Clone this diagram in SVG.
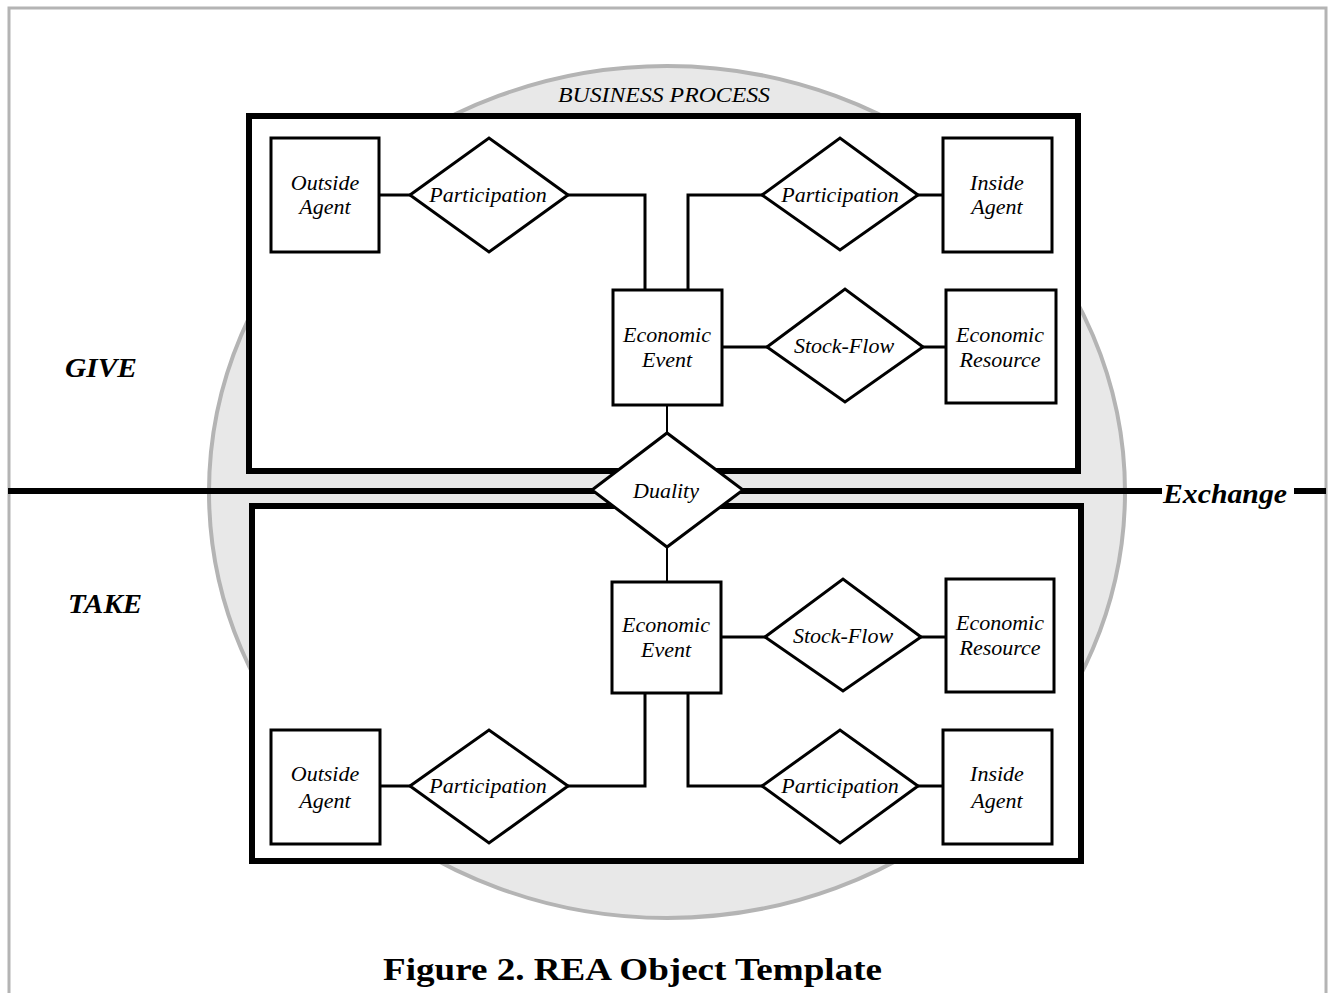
<svg xmlns="http://www.w3.org/2000/svg" width="1331" height="993" viewBox="0 0 1331 993">
  <style>
    .frame { fill: none; stroke: #b4b4b4; stroke-width: 3; }
    .process { fill: #e8e8e8; stroke: #b4b4b4; stroke-width: 4; }
    .side { fill: #ffffff; stroke: #000000; stroke-width: 6; }
    .entity { fill: #ffffff; stroke: #000000; stroke-width: 3; }
    .rel { fill: #ffffff; stroke: #000000; stroke-width: 3; stroke-linejoin: miter; }
    .link { fill: none; stroke: #000000; stroke-width: 3; }
    .thin { fill: none; stroke: #000000; stroke-width: 2; }
    .exch { fill: none; stroke: #000000; stroke-width: 6; }
    .lbl { font-family: "Liberation Serif", "Times New Roman", serif; font-style: italic; font-size: 22px; fill: #000000; text-anchor: middle; }
    .side-lbl { font-family: "Liberation Serif", "Times New Roman", serif; font-style: italic; font-weight: bold; font-size: 28px; fill: #000000; }
    .caption { font-family: "Liberation Serif", "Times New Roman", serif; font-weight: bold; font-size: 31px; fill: #000000; }
  </style>

  <rect x="0" y="0" width="1331" height="993" fill="#ffffff"/>
  <!-- page frame (open at the bottom) -->
  <rect class="frame" x="9" y="8" width="1317" height="1010"/>

  <!-- business process ellipse -->
  <g id="business-process">
    <ellipse class="process" cx="667" cy="492" rx="458" ry="426"/>
    <text class="lbl" x="664" y="102" textLength="212" lengthAdjust="spacingAndGlyphs">BUSINESS PROCESS</text>
  </g>

  <!-- exchange boundary -->
  <g id="exchange">
    <line class="exch" x1="8" y1="491" x2="1162" y2="491"/>
    <line class="exch" x1="1294" y1="491" x2="1326" y2="491"/>
    <text class="side-lbl" x="1163" y="503" textLength="124" lengthAdjust="spacingAndGlyphs">Exchange</text>
  </g>

  <!-- give / take containers -->
  <g id="give">
    <rect class="side" x="249" y="116" width="829" height="355"/>
    <text class="side-lbl" x="65" y="377" textLength="72" lengthAdjust="spacingAndGlyphs">GIVE</text>
  </g>
  <g id="take">
    <rect class="side" x="252" y="506" width="829" height="355"/>
    <text class="side-lbl" x="68" y="613" textLength="74" lengthAdjust="spacingAndGlyphs">TAKE</text>
  </g>

  <!-- connectors -->
  <g id="connectors">
    <!-- give side -->
    <line class="link" x1="379" y1="195" x2="410" y2="195"/>
    <polyline class="link" points="568,195 645,195 645,290"/>
    <polyline class="link" points="688,290 688,195 762,195"/>
    <line class="link" x1="918" y1="195" x2="943" y2="195"/>
    <line class="link" x1="722" y1="347" x2="767" y2="347"/>
    <line class="link" x1="923" y1="347" x2="946" y2="347"/>
    <!-- duality -->
    <line class="thin" x1="667" y1="405" x2="667" y2="433"/>
    <line class="thin" x1="667" y1="547" x2="667" y2="582"/>
    <!-- take side -->
    <line class="link" x1="721" y1="637" x2="765" y2="637"/>
    <line class="link" x1="921" y1="637" x2="946" y2="637"/>
    <polyline class="link" points="645,693 645,786 568,786"/>
    <polyline class="link" points="688,693 688,786 762,786"/>
    <line class="link" x1="380" y1="786" x2="410" y2="786"/>
    <line class="link" x1="918" y1="786" x2="943" y2="786"/>
  </g>

  <!-- give side nodes -->
  <g id="give-outside-agent">
    <rect class="entity" x="271" y="138" width="108" height="114"/>
    <text class="lbl" x="325" y="190">Outside</text>
    <text class="lbl" x="325" y="214">Agent</text>
  </g>
  <g id="give-participation-outside">
    <polygon class="rel" points="410,195 489,138 568,195 489,252"/>
    <text class="lbl" x="488" y="202">Participation</text>
  </g>
  <g id="give-participation-inside">
    <polygon class="rel" points="762,195 840,138 918,195 840,250"/>
    <text class="lbl" x="840" y="202">Participation</text>
  </g>
  <g id="give-inside-agent">
    <rect class="entity" x="943" y="138" width="109" height="114"/>
    <text class="lbl" x="997" y="190">Inside</text>
    <text class="lbl" x="997" y="214">Agent</text>
  </g>
  <g id="give-economic-event">
    <rect class="entity" x="613" y="290" width="109" height="115"/>
    <text class="lbl" x="667" y="342">Economic</text>
    <text class="lbl" x="667" y="367">Event</text>
  </g>
  <g id="give-stock-flow">
    <polygon class="rel" points="767,347 845,289 923,347 845,402"/>
    <text class="lbl" x="844" y="353">Stock-Flow</text>
  </g>
  <g id="give-economic-resource">
    <rect class="entity" x="946" y="290" width="110" height="113"/>
    <text class="lbl" x="1000" y="342">Economic</text>
    <text class="lbl" x="1000" y="367">Resource</text>
  </g>

  <!-- duality -->
  <g id="duality">
    <polygon class="rel" points="592,490 667,433 743,490 667,547"/>
    <text class="lbl" x="666" y="498">Duality</text>
  </g>

  <!-- take side nodes -->
  <g id="take-economic-event">
    <rect class="entity" x="612" y="582" width="109" height="111"/>
    <text class="lbl" x="666" y="632">Economic</text>
    <text class="lbl" x="666" y="657">Event</text>
  </g>
  <g id="take-stock-flow">
    <polygon class="rel" points="765,637 843,579 921,637 843,691"/>
    <text class="lbl" x="843" y="643">Stock-Flow</text>
  </g>
  <g id="take-economic-resource">
    <rect class="entity" x="946" y="579" width="108" height="113"/>
    <text class="lbl" x="1000" y="630">Economic</text>
    <text class="lbl" x="1000" y="655">Resource</text>
  </g>
  <g id="take-outside-agent">
    <rect class="entity" x="271" y="730" width="109" height="114"/>
    <text class="lbl" x="325" y="781">Outside</text>
    <text class="lbl" x="325" y="808">Agent</text>
  </g>
  <g id="take-participation-outside">
    <polygon class="rel" points="410,786 489,730 568,786 489,843"/>
    <text class="lbl" x="488" y="793">Participation</text>
  </g>
  <g id="take-participation-inside">
    <polygon class="rel" points="762,786 840,730 918,786 840,843"/>
    <text class="lbl" x="840" y="793">Participation</text>
  </g>
  <g id="take-inside-agent">
    <rect class="entity" x="943" y="730" width="109" height="114"/>
    <text class="lbl" x="997" y="781">Inside</text>
    <text class="lbl" x="997" y="808">Agent</text>
  </g>

  <!-- caption -->
  <text class="caption" x="383" y="980" textLength="499" lengthAdjust="spacingAndGlyphs">Figure 2. REA Object Template</text>
</svg>
